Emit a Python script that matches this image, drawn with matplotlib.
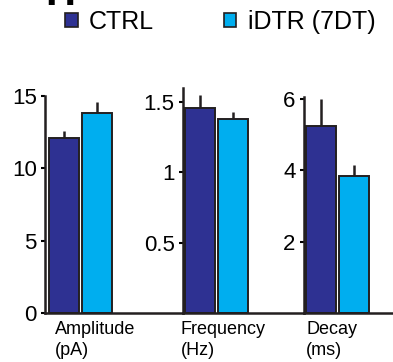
import matplotlib.pyplot as plt
from matplotlib.patches import Patch

plt.rcParams['font.family'] = ['Liberation Sans', 'DejaVu Sans']

groups = ['CTRL', 'iDTR (7DT)']
measures = ['Amplitude\n(pA)', 'Frequency\n(Hz)', 'Decay\n(ms)']
ctrl_mean = [12.1, 1.46, 5.23]
ctrl_sem = [0.45, 0.09, 0.77]
idtr_mean = [13.8, 1.38, 3.83]
idtr_sem = [0.8, 0.05, 0.31]
yticks = [[0, 5, 10, 15], [0.5, 1, 1.5], [2, 4, 6]]
ytick_labels = [['0', '5', '10', '15'], ['0.5', '1', '1.5'], ['2', '4', '6']]
ylims = [15, 1.6, 6.05]

colors = ['#2E3192', '#00AEEF']
edge = '#231F20'

W, H = 393, 362
y0 = 313
# pixel layout of each panel: left, right, top of y axis
layout = [(45, 183, 96), (183, 304, 88), (304, 393, 97)]
bar_start = [0.13, 0.07, 0.07]
label_dx = [0.33, -0.07, 0.07]
bw = 30.0

fig = plt.figure(figsize=(W / 100, H / 100), dpi=100)

for i in range(3):
    l, r, t = layout[i]
    ax = fig.add_axes([l / W, (H - y0) / H, (r - l) / W, (y0 - t) / H])
    means = [ctrl_mean[i], idtr_mean[i]]
    sems = [ctrl_sem[i], idtr_sem[i]]
    xs = [bar_start[i], bar_start[i] + 1.1]
    ax.bar(xs, means, width=1, align='edge', color=colors,
           edgecolor=edge, linewidth=1.4, zorder=2)
    ax.errorbar([x + 0.5 for x in xs], means, yerr=[[0, 0], sems],
                fmt='none', ecolor=edge, elinewidth=1.8, capsize=0, zorder=1)
    ax.set_xlim(0, (r - l) / bw)
    ax.set_ylim(0, ylims[i])
    ax.set_yticks(yticks[i])
    ax.set_yticklabels(ytick_labels[i])
    ax.set_xticks([])
    for s in ['top', 'right']:
        ax.spines[s].set_visible(False)
    for s in ['left', 'bottom']:
        ax.spines[s].set_linewidth(1.8)
        ax.spines[s].set_color(edge)
    ax.tick_params(axis='y', direction='out', length=3, width=1.5,
                   pad=3, labelsize=16, colors='black')
    ax.text(label_dx[i], -8 / (y0 - t) * ylims[i], measures[i],
            ha='left', va='top', fontsize=13, linespacing=1.3)

handles = [Patch(facecolor=colors[k], edgecolor=edge, linewidth=1.2,
                 label=groups[k]) for k in range(2)]
fig.legend(handles=handles, loc='upper left',
           bbox_to_anchor=(65 / W, 1 - 10 / H), ncol=2, frameon=False,
           fontsize=18, handlelength=0.5, handleheight=0.5,
           handletextpad=0.45, columnspacing=2.8, borderpad=0,
           borderaxespad=0)

fig.text(45 / W, 1 - 5 / H, 'H', fontsize=30, fontweight='bold',
         va='baseline', ha='left')

fig.savefig('out.png', dpi=100)
